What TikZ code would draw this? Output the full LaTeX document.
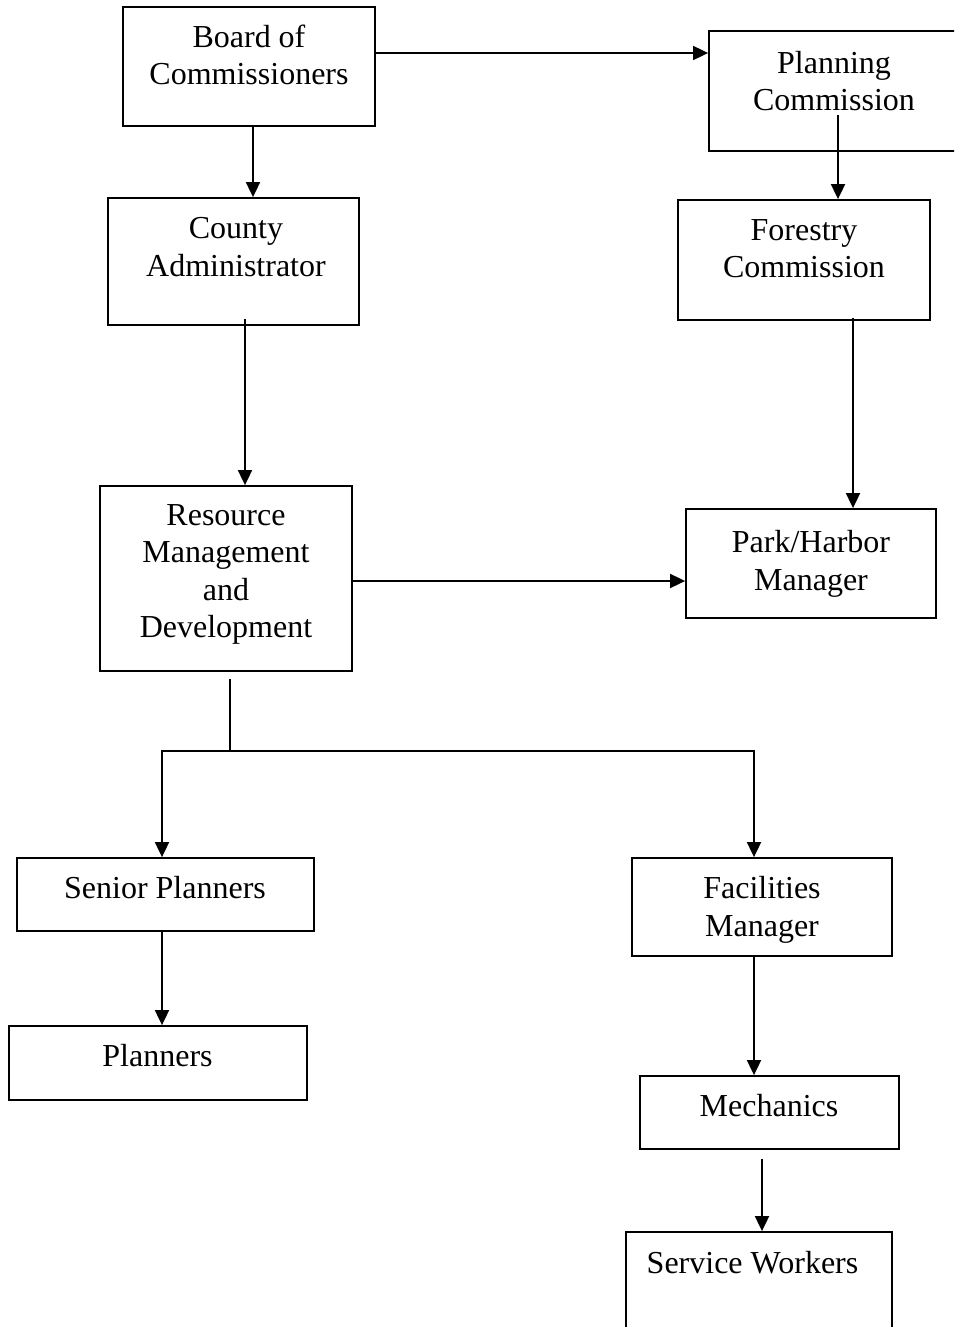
\documentclass[tikz,border=0pt]{standalone}
\usepackage{fontspec}
\setmainfont{Liberation Serif}
\usetikzlibrary{arrows.meta}
\begin{document}
\begin{tikzpicture}[x=1pt,y=-1pt,
  box/.style={draw, line width=1.8pt, inner sep=0pt, rectangle},
  txt/.style={anchor=north, inner sep=0pt, align=center, font=\fontsize{32}{37.5}\selectfont},
  conn/.style={line width=1.8pt},
  arr/.style={conn, -{Triangle[length=15pt,width=14pt]}}]
\useasboundingbox (0,0) rectangle (954,1327);
\clip (0,0) rectangle (954,1327);
\fill[white] (0,0) rectangle (954,1327);
% boxes
\node[box, minimum width=252pt, minimum height=119pt] (board) at (249,66.5) {};
\node[box, minimum width=251pt, minimum height=120pt] (planning) at (834.5,91) {};
\node[box, minimum width=251pt, minimum height=127pt] (county) at (233.5,261.5) {};
\node[box, minimum width=252pt, minimum height=120pt] (forestry) at (804,260) {};
\node[box, minimum width=252pt, minimum height=185pt] (resource) at (226,578.5) {};
\node[box, minimum width=250pt, minimum height=109pt] (park) at (811,563.5) {};
\node[box, minimum width=297pt, minimum height=73pt] (senior) at (165.5,894.5) {};
\node[box, minimum width=298pt, minimum height=74pt] (planners) at (158,1063) {};
\node[box, minimum width=260pt, minimum height=98pt] (facilities) at (762,907) {};
\node[box, minimum width=259pt, minimum height=73pt] (mechanics) at (769.5,1112.5) {};
\node[box, minimum width=266pt, minimum height=113pt] (service) at (759,1288.5) {};
% texts
\node[txt] (tboard) at (249,24.3) {Board of\\Commissioners};
\node[txt] (tplanning) at (834,50.8) {Planning\\Commission};
\node[txt] (tcounty) at (236,217.3) {County\\Administrator};
\node[txt] (tforestry) at (804,219.3) {Forestry\\Commission};
\node[txt] (tresource) at (226,504.3) {Resource\\Management\\and\\Development};
\node[txt] (tpark) at (811,530.3) {Park/Harbor\\Manager};
\node[txt] (tsenior) at (165,876.3) {Senior Planners};
\node[txt] (tfacilities) at (762,876.3) {Facilities\\Manager};
\node[txt] (tplanners) at (157.5,1044.3) {Planners};
\node[txt] (tmechanics) at (769,1094.3) {Mechanics};
\node[txt] (tservice) at (752.5,1251.3) {Service Workers};
% connectors
\draw[arr] ([yshift=13.5pt]board.east) -- ([yshift=13.5pt]board.east -| planning.west);
\draw[arr] ([xshift=4pt]board.south) -- ([xshift=4pt]board.south |- county.north);
\draw[arr] ([xshift=11.5pt,yshift=7pt]county.south) -- ([xshift=11.5pt]county.south |- resource.north);
\draw[arr] ([xshift=3.5pt,yshift=37pt]planning.south) -- ([xshift=3.5pt]planning.south |- forestry.north);
\draw[arr] ([xshift=49pt,yshift=3pt]forestry.south) -- ([xshift=49pt]forestry.south |- park.north);
\draw[arr] ([yshift=-2.5pt]resource.east) -- ([yshift=-2.5pt]resource.east -| park.west);
\coordinate (split) at ([xshift=4pt,yshift=-79pt]resource.south);
\draw[conn] ([xshift=4pt,yshift=-7pt]resource.south) -- (split);
\draw[arr] (split) -| ([xshift=-3.5pt]senior.north);
\draw[arr] (split) -| ([xshift=-8pt]facilities.north);
\draw[arr] ([xshift=-3.5pt]senior.south) -- ([xshift=-3.5pt]senior.south |- planners.north);
\draw[arr] ([xshift=-8pt]facilities.south) -- ([xshift=-8pt]facilities.south |- mechanics.north);
\draw[arr] ([xshift=-7.5pt,yshift=-9pt]mechanics.south) -- ([xshift=-7.5pt]mechanics.south |- service.north);
\end{tikzpicture}
\end{document}
